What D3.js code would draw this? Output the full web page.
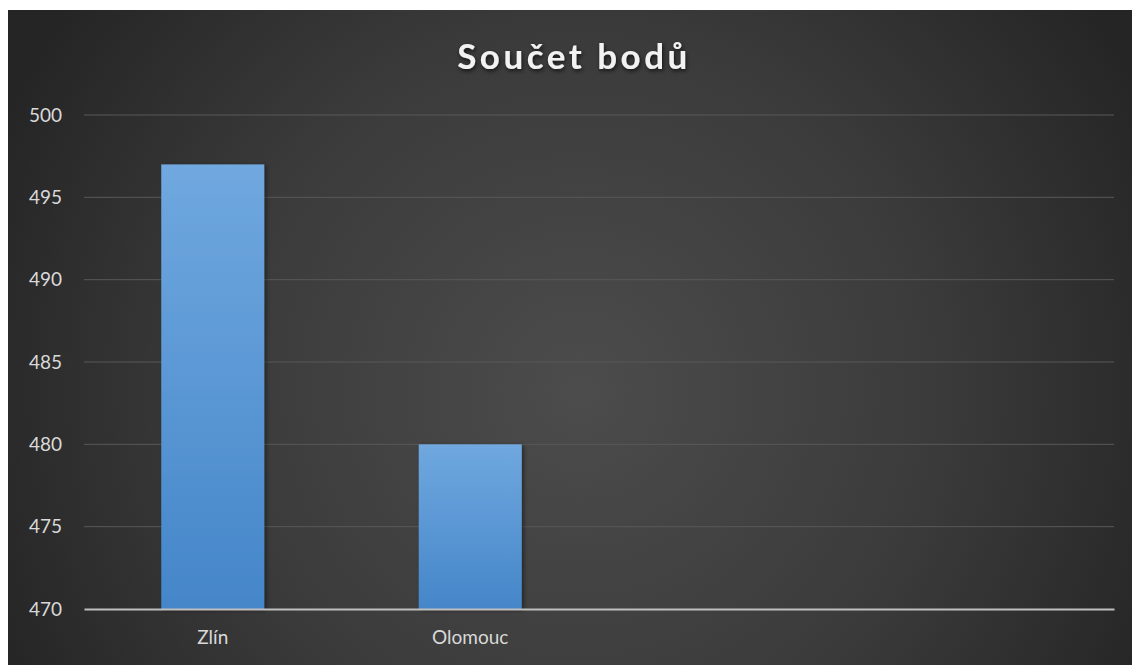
<!DOCTYPE html>
<html>
<head>
<meta charset="utf-8">
<script src="https://cdn.jsdelivr.net/npm/d3@7"></script>
<style>
  html, body { margin: 0; padding: 0; background: #ffffff; }
  svg { display: block; }
</style>
</head>
<body>
<svg id="chart" width="1132" height="665"></svg>
<script>
// Chart data
const title = "Součet bodů";
const categories = ["Zlín", "Olomouc", "", ""];
const values = [497, 480, null, null];
const yTicks = [470, 475, 480, 485, 490, 495, 500];

const W = 1132, H = 665;
const panel = { x: 8, y: 10, w: W - 8, h: H - 10 };
const plot = { left: 84, right: 1114, top: 115, bottom: 609 };

const svg = d3.select("#chart");
const defs = svg.append("defs");

// Background radial gradient
const bg = defs.append("radialGradient")
  .attr("id", "bgGrad")
  .attr("gradientUnits", "userSpaceOnUse")
  .attr("cx", 580).attr("cy", 390).attr("r", 640);
bg.append("stop").attr("offset", "0%").attr("stop-color", "#4c4c4c");
bg.append("stop").attr("offset", "55%").attr("stop-color", "#3b3b3b");
bg.append("stop").attr("offset", "100%").attr("stop-color", "#252525");

// Bar gradient
const bar = defs.append("linearGradient")
  .attr("id", "barGrad").attr("x1", 0).attr("y1", 0).attr("x2", 0).attr("y2", 1);
bar.append("stop").attr("offset", "0%").attr("stop-color", "#70a8df");
bar.append("stop").attr("offset", "100%").attr("stop-color", "#4486c9");

// Soft shadow for bars and title
const shadow = defs.append("filter").attr("id", "barShadow")
  .attr("x", "-10%").attr("y", "-5%").attr("width", "130%").attr("height", "115%");
shadow.append("feDropShadow").attr("dx", 2).attr("dy", 1).attr("stdDeviation", 2)
  .attr("flood-color", "#000").attr("flood-opacity", 0.45);

const tshadow = defs.append("filter").attr("id", "titleShadow")
  .attr("x", "-10%").attr("y", "-30%").attr("width", "120%").attr("height", "160%");
tshadow.append("feDropShadow").attr("dx", 1).attr("dy", 2).attr("stdDeviation", 2)
  .attr("flood-color", "#000").attr("flood-opacity", 0.7);

svg.append("rect")
  .attr("x", panel.x).attr("y", panel.y)
  .attr("width", panel.w).attr("height", panel.h)
  .attr("fill", "url(#bgGrad)");

// Scales
const x = d3.scaleBand()
  .domain(d3.range(categories.length))
  .range([plot.left, plot.right])
  .paddingInner(0.6)
  .paddingOuter(0.3);

const y = d3.scaleLinear()
  .domain([470, 500])
  .range([plot.bottom, plot.top]);

// Gridlines
svg.append("g")
  .selectAll("line")
  .data(yTicks.filter(t => t !== 470))
  .join("line")
  .attr("x1", plot.left).attr("x2", plot.right)
  .attr("y1", d => y(d)).attr("y2", d => y(d))
  .attr("stroke", "#585858").attr("stroke-width", 1);

// Y axis labels
const yAxis = d3.axisLeft(y).tickValues(yTicks).tickSize(0).tickPadding(22);
const yg = svg.append("g").attr("transform", `translate(${plot.left},0)`).call(yAxis);
yg.select(".domain").remove();
yg.selectAll("text")
  .attr("fill", "#d9d9d9")
  .style("font-family", "Lato, 'Open Sans', sans-serif")
  .style("font-size", "19px");

// Bars
svg.append("g")
  .selectAll("rect")
  .data(values.map((v, i) => ({ i, v })).filter(d => d.v != null))
  .join("rect")
  .attr("x", d => x(d.i))
  .attr("width", x.bandwidth())
  .attr("y", d => y(d.v))
  .attr("height", d => y(470) - y(d.v))
  .attr("fill", "url(#barGrad)")
  .attr("filter", "url(#barShadow)");

// X axis
const xAxis = d3.axisBottom(x).tickFormat(i => categories[i]).tickSize(0).tickPadding(22);
const xg = svg.append("g").attr("transform", `translate(0,${plot.bottom})`).call(xAxis);
xg.select(".domain").attr("stroke", "#bfbfbf").attr("stroke-width", 2.2);
xg.selectAll("text")
  .attr("fill", "#d9d9d9")
  .style("font-family", "Lato, 'Open Sans', sans-serif")
  .style("font-size", "19px");

// Title
svg.append("text")
  .attr("x", 574).attr("y", 69)
  .attr("text-anchor", "middle")
  .attr("fill", "#f2f2f2")
  .attr("filter", "url(#titleShadow)")
  .style("font-family", "Lato, 'Open Sans', sans-serif")
  .style("font-weight", "bold")
  .style("font-size", "35px")
  .style("letter-spacing", "3.5px")
  .text(title);
</script>
</body>
</html>
